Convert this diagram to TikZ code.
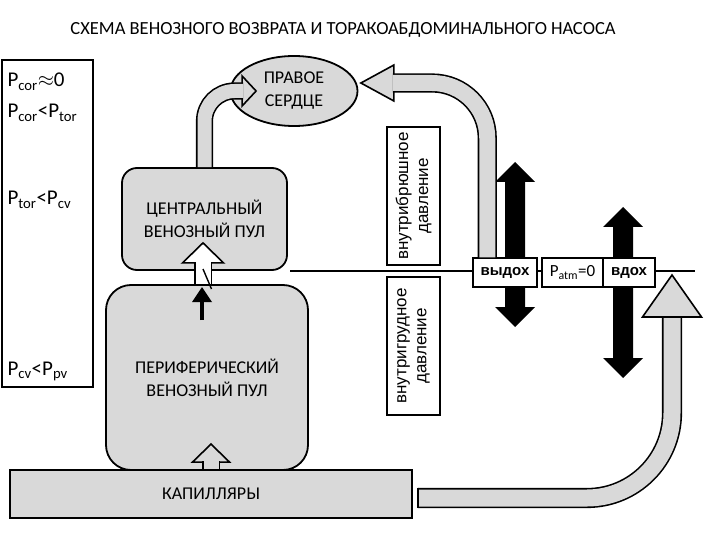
\documentclass[tikz,border=0pt]{standalone}
\usepackage{fontspec}
\setmainfont{Carlito}
\newfontfamily\arialfont{Liberation Sans}
\usepackage{tikz}
\usetikzlibrary{arrows.meta,shapes.geometric,calc}

\definecolor{poolgray}{RGB}{217,217,217}

\begin{document}
\begin{tikzpicture}[x=1pt,y=-1pt,
  pool/.style={draw, line width=1.8pt, fill=poolgray, align=center, font=\fontsize{18}{23}\selectfont},
  wallbox/.style={draw, line width=1.8pt, fill=white, rotate=90, align=center, minimum width=138, minimum height=53, inner sep=0pt, font=\arialfont\fontsize{17}{20}\selectfont},
  breathbox/.style={draw, line width=1.5pt, fill=white, minimum height=29, inner sep=0pt},
  fatshaft/.style={draw=black, line width=1.6pt, double=poolgray, double distance=#1},
  fathead/.style={draw, line width=1.6pt, fill=poolgray},
  ratio/.style={anchor=base west, font=\fontsize{21}{21}\selectfont}]
\useasboundingbox (0,0) rectangle (720,540);

% title
\node [font=\fontsize{18.5}{18.5}\selectfont] (title) at (343,30) {СХЕМА ВЕНОЗНОГО ВОЗВРАТА И ТОРАКОАБДОМИНАЛЬНОГО НАСОСА};

% pressure gradients
\node [draw, line width=1.4pt, minimum width=91, minimum height=327] (grad) at (47.5,223.5) {};
\node [ratio] (rcor) at (4,87) {P\textsubscript{cor}$\approx$0};
\node [ratio] (rtor) at (4,118) {P\textsubscript{cor}<P\textsubscript{tor}};
\node [ratio] (rcv) at (4,205) {P\textsubscript{tor}<P\textsubscript{cv}};
\node [ratio] (rpv) at (4,375) {P\textsubscript{cv}<P\textsubscript{pv}};

% diaphragm line and walls
\coordinate (lineL) at (290,271);
\coordinate (lineR) at (695,271);
\draw [line width=1.8pt] (lineL) -- (lineR);
\node [wallbox] (abd) at (413.5,196) {внутрибрюшное\\давление};
\node [wallbox] (thor) at (413.5,346) {внутригрудное\\давление};

% pump arrows
\fill (515,162) -- ++(20,20) -- ++(-10,0) -- ++(0,125) -- ++(10,0) -- ++(-20,20)
  -- ++(-20,-20) -- ++(10,0) -- ++(0,-125) -- ++(-10,0) -- cycle;
\fill (623,207) -- ++(20,20) -- ++(-10,0) -- ++(0,131) -- ++(10,0) -- ++(-20,20)
  -- ++(-20,-20) -- ++(10,0) -- ++(0,-131) -- ++(-10,0) -- cycle;

\node [breathbox, minimum width=64, font=\arialfont\bfseries\fontsize{15}{15}\selectfont] (exhale) at (505,272.5) {выдох};
\node [breathbox, minimum width=61, font=\fontsize{17}{17}\selectfont] (patm) at (572.5,272.5) {P\textsubscript{atm}=0};
\node [breathbox, minimum width=52, font=\arialfont\bfseries\fontsize{15}{15}\selectfont] (inhale) at (629,272.5) {вдох};

% pools
\node [pool, ellipse, minimum width=127, minimum height=70, inner sep=0pt] (heart) at (294,91) {ПРАВОЕ\\СЕРДЦЕ};
\node [pool, minimum width=402, minimum height=48] (capil) at (211,494) {КАПИЛЛЯРЫ};
\node [pool, rounded corners=25pt, minimum width=202, minimum height=185] (periph) at (207,377.5) {ПЕРИФЕРИЧЕСКИЙ\\ВЕНОЗНЫЙ ПУЛ};
\node [pool, rounded corners=15pt, minimum width=165, minimum height=102] (central) at (204.5,219) {ЦЕНТРАЛЬНЫЙ\\ВЕНОЗНЫЙ ПУЛ};

% central pool to heart
\coordinate (hearttipL) at ($(heart.west)+(26.5,0)$);
\draw [fathead] (hearttipL) -- ++(-14,-15) -- ++(0,30) -- cycle;
\draw [fatshaft=14pt, rounded corners=30pt] (central.north) |- ($(hearttipL)+(-13,0)$);

% abdomen to heart
\coordinate (hearttipR) at ($(heart.east)+(2.5,-8)$);
\draw [fathead] (hearttipR) -- ++(33,-18) -- ++(0,36) -- cycle;
\draw [fatshaft=16pt, rounded corners=55pt] ($(exhale.north west)+(15,0)$) |- ($(hearttipR)+(32,0)$);

% capillaries to the chest
\coordinate (lungtip) at (672,275);
\draw [fathead] (lungtip) -- ++(29.5,42) -- ++(-59,0) -- cycle;
\draw [fatshaft=17pt, rounded corners=85pt] ($(capil.east)+(5,4)$) -| ($(lungtip)+(0,43)$);
\draw [line width=1.6pt] ($(capil.east)+(5,-6.3)$) -- ($(capil.east)+(5,14.3)$);

% capillaries to peripheral pool
\coordinate (periphtip) at ($(capil.north)+(0,-25)$);
\draw [fathead] (periphtip) -- ++(18.5,18) -- ++(-37,0) -- cycle;
\draw [fatshaft=15pt] (capil.north) -- ($(periphtip)+(0,17)$);

% peripheral pool to central pool
\coordinate (centraltip) at ($(central.south)+(-1.5,-28)$);
\draw [fathead, fill=white] (centraltip) -- ++(20.5,20) -- ++(-41,0) -- cycle;
\draw [fatshaft=15pt, double=white] (centraltip |- periph.north) -- ($(centraltip)+(0,19)$);
\draw [line width=1.4pt] (203,269) -- (211.5,289);
\draw [line width=3.5pt, -{Triangle[length=15pt,width=19pt]}] (202,320) -- (202,287);
\end{tikzpicture}
\end{document}
